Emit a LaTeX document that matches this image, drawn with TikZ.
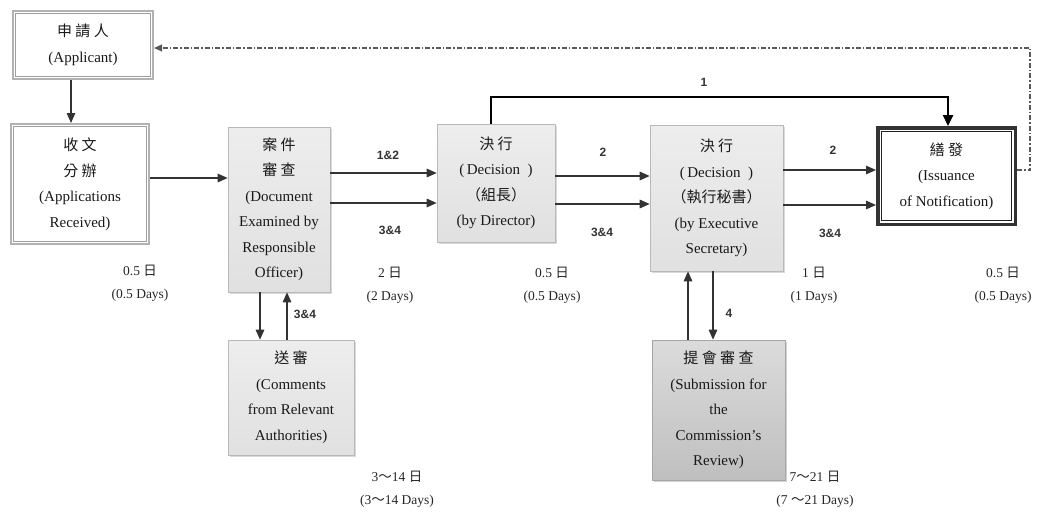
\documentclass[tikz,border=0pt]{standalone}
\usepackage{fontspec}
\setmainfont{Liberation Serif}
\newfontfamily\cjk{Noto Sans CJK TC}
\newfontfamily\lblfont{Liberation Sans}
\newcommand\wavy{{\cjk ～}}
\usetikzlibrary{arrows.meta,shadows}
\begin{document}
\begin{tikzpicture}[x=1pt,y=-1pt,
  base/.style={align=center, inner sep=0pt, text=black!90, font=\fontsize{15}{25.5}\selectfont},
  lightbox/.style={base, draw=gray!55, line width=0.6pt, top color=gray!14, middle color=gray!4, bottom color=gray!24,
     drop shadow={opacity=0.3, shadow xshift=2pt, shadow yshift=-2pt}},
  darkbox/.style={base, draw=gray!70, line width=0.6pt, top color=gray!28, middle color=gray!14, bottom color=gray!50,
     drop shadow={opacity=0.35, shadow xshift=2pt, shadow yshift=-2pt}},
  dblbox/.style={base, outer sep=3.5pt, draw=gray!75, line width=0.9pt,
     preaction={draw=gray!60, line width=7pt},
     preaction={fill=white, draw=white, line width=3pt}},
  heavybox/.style={base, outer sep=5.5pt, draw=gray!25!black, line width=1.3pt,
     preaction={draw=gray!40!black, line width=11pt},
     preaction={fill=white, draw=white, line width=4pt}},
  arr/.style={draw=black!80, line width=1.4pt, -{Triangle[length=10pt,width=8.5pt]}},
  thickarr/.style={draw=black, line width=2.4pt, -{Triangle[length=11pt,width=10pt]}},
  dd/.style={draw=black!65, line width=1.2pt, dash pattern=on 5pt off 2pt on 1.5pt off 2pt,
     -{Triangle[length=8pt,width=7pt]}},
  lbl/.style={font=\lblfont\bfseries\fontsize{12}{14}\selectfont, text=black!80},
  tlab/.style={align=center, font=\fontsize{13.5}{23}\selectfont, text=black!85}
]
\useasboundingbox (0,0) rectangle (1039,512);

% nodes
\node[dblbox, minimum width=135pt, minimum height=63pt] (app) at (83,45)
  {{\cjk 申 請 人}\\(Applicant)};
\node[dblbox, minimum width=133pt, minimum height=115pt] (rec) at (80,184)
  {{\cjk 收 文}\\{\cjk 分 辦}\\(Applications\\Received)};
\node[lightbox, minimum width=102pt, minimum height=165pt] (doc) at (279,209.5)
  {{\cjk 案 件}\\{\cjk 審 查}\\(Document\\Examined by\\Responsible\\Officer)};
\node[lightbox, minimum width=118pt, minimum height=118pt] (dir) at (496,183)
  {{\cjk 決 行}\\(\,Decision\ \ )\\{\cjk （組長）}\\(by Director)};
\node[lightbox, minimum width=133pt, minimum height=146pt] (exe) at (716.5,198)
  {{\cjk 決 行}\\(\,Decision\ \ )\\{\cjk （執行秘書）}\\(by Executive\\Secretary)};
\node[heavybox, minimum width=130pt, minimum height=89pt] (iss) at (946.5,176)
  {{\cjk 繕 發}\\(Issuance\\of Notification)};
\node[lightbox, minimum width=126pt, minimum height=115pt] (com) at (291,397.5)
  {{\cjk 送 審}\\(Comments\\from Relevant\\Authorities)};
\node[darkbox, minimum width=133pt, minimum height=140pt] (sub) at (718.5,410)
  {{\cjk 提 會 審 查}\\(Submission for\\the\\Commission's\\Review)};

% connectors
\draw[arr] (app.south -| 71,0) -- (rec.north -| 71,0);
\draw[arr] (rec.east |- 0,178) -- (doc.west |- 0,178);
\draw[arr] (doc.east |- 0,173) -- (dir.west |- 0,173);
\draw[arr] (doc.east |- 0,203) -- (dir.west |- 0,203);
\draw[arr] (dir.east |- 0,176) -- (exe.west |- 0,176);
\draw[arr] (dir.east |- 0,204) -- (exe.west |- 0,204);
\draw[arr] (exe.east |- 0,170) -- (iss.west |- 0,170);
\draw[arr] (exe.east |- 0,205) -- (iss.west |- 0,205);
\draw[thickarr] (dir.north -| 491,0) -- ++(0,-27) -| (iss.north -| 948,0);
\draw[dd] (iss.east |- 0,170) -- ++(13,0) |- (app.east |- 0,48);
\draw[arr] (doc.south -| 260,0) -- (com.north -| 260,0);
\draw[arr] (com.north -| 287,0) -- (doc.south -| 287,0);
\draw[arr] (sub.north -| 688,0) -- (exe.south -| 688,0);
\draw[arr] (exe.south -| 713,0) -- (sub.north -| 713,0);

% connector labels
\node[lbl] (l1) at (704,82) {1};
\node[lbl] (l12) at (388,155) {1\&2};
\node[lbl] (l34a) at (390,230) {3\&4};
\node[lbl] (l2a) at (603,152) {2};
\node[lbl] (l34b) at (602,232) {3\&4};
\node[lbl] (l2b) at (833,150) {2};
\node[lbl] (l34c) at (830,233) {3\&4};
\node[lbl] (l34d) at (305,314) {3\&4};
\node[lbl] (l4) at (729,313) {4};

% time labels
\node[tlab] (t1) at (140,283) {0.5 {\cjk 日}\\(0.5 Days)};
\node[tlab] (t2) at (390,285) {2 {\cjk 日}\\(2 Days)};
\node[tlab] (t3) at (552,285) {0.5 {\cjk 日}\\(0.5 Days)};
\node[tlab] (t4) at (814,285) {1 {\cjk 日}\\(1 Days)};
\node[tlab] (t5) at (1003,285) {0.5 {\cjk 日}\\(0.5 Days)};
\node[tlab] (t6) at (397,489) {3\wavy14 {\cjk 日}\\(3\wavy14 Days)};
\node[tlab] (t7) at (815,489) {7\wavy21 {\cjk 日}\\(7 \wavy21 Days)};
\end{tikzpicture}
\end{document}
